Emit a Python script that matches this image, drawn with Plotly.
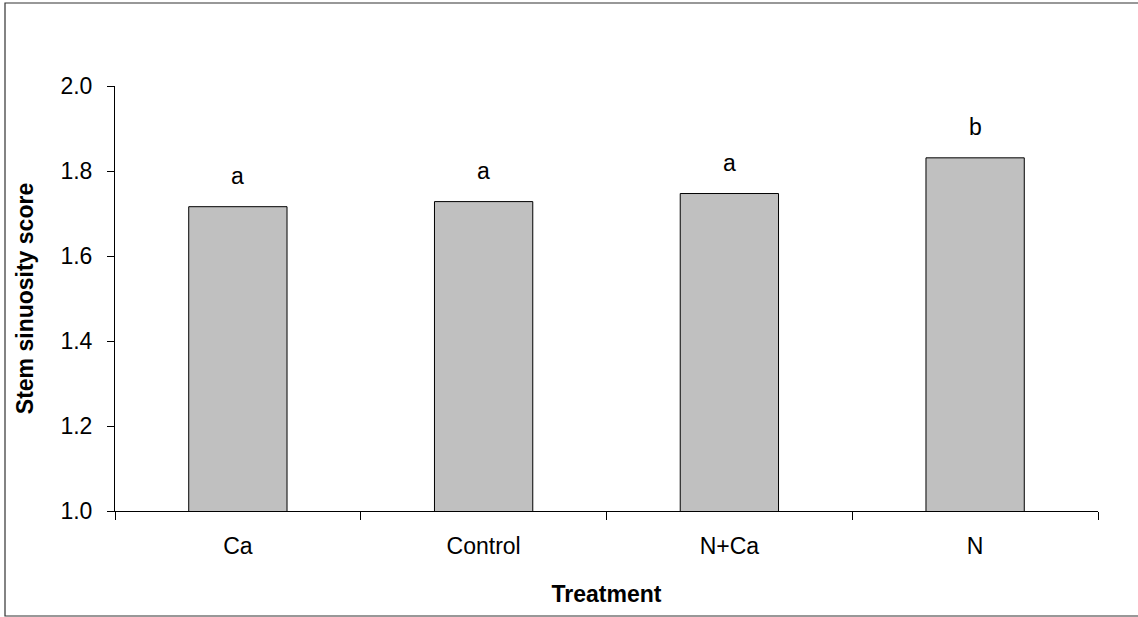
import plotly.graph_objects as go

treatments = ["Ca", "Control", "N+Ca", "N"]
scores = [1.716, 1.728, 1.747, 1.831]
letters = ["a", "a", "a", "b"]
y_ticks = [1.0, 1.2, 1.4, 1.6, 1.8, 2.0]

FONT = "Liberation Sans, Arial, sans-serif"
FS = 23

fig = go.Figure()
fig.add_trace(go.Bar(
    x=treatments, y=scores, width=0.4,
    marker=dict(color="#C0C0C0", line=dict(color="black", width=1)),
    showlegend=False, hoverinfo="skip",
))

for t, v, l in zip(treatments, scores, letters):
    fig.add_annotation(x=t, y=v, text=l, showarrow=False, yanchor="bottom",
                       yshift=16, font=dict(family=FONT, size=FS, color="black"))

# outer chart border
fig.add_shape(type="rect", xref="paper", yref="paper",
              x0=-0.1119, x1=1.05, y0=-0.2471, y1=1.1953,
              line=dict(color="#333333", width=1.2), fillcolor="rgba(0,0,0,0)")

fig.update_layout(
    width=1138, height=617,
    margin=dict(l=115, r=40, t=86, b=106),
    plot_bgcolor="white", paper_bgcolor="white",
    font=dict(family=FONT, size=FS, color="black"),
    xaxis=dict(
        type="category", tickson="boundaries", ticks="outside", ticklen=8,
        tickcolor="black", showline=True, linecolor="black", linewidth=1,
        showgrid=False, zeroline=False, ticklabelstandoff=14,
        tickfont=dict(family=FONT, size=FS),
        title=dict(text="<b>Treatment</b>", font=dict(family=FONT, size=FS), standoff=28),
    ),
    yaxis=dict(
        range=[1.0, 2.0], tickvals=y_ticks, tickformat=".1f", ticks="outside", ticklen=7,
        tickcolor="black", showline=True, linecolor="black", linewidth=1,
        showgrid=False, zeroline=False, ticklabelstandoff=10,
        tickfont=dict(family=FONT, size=FS),
        title=dict(text="<b>Stem sinuosity score</b>", font=dict(family=FONT, size=FS), standoff=20),
    ),
)

fig.write_html("out.html")
